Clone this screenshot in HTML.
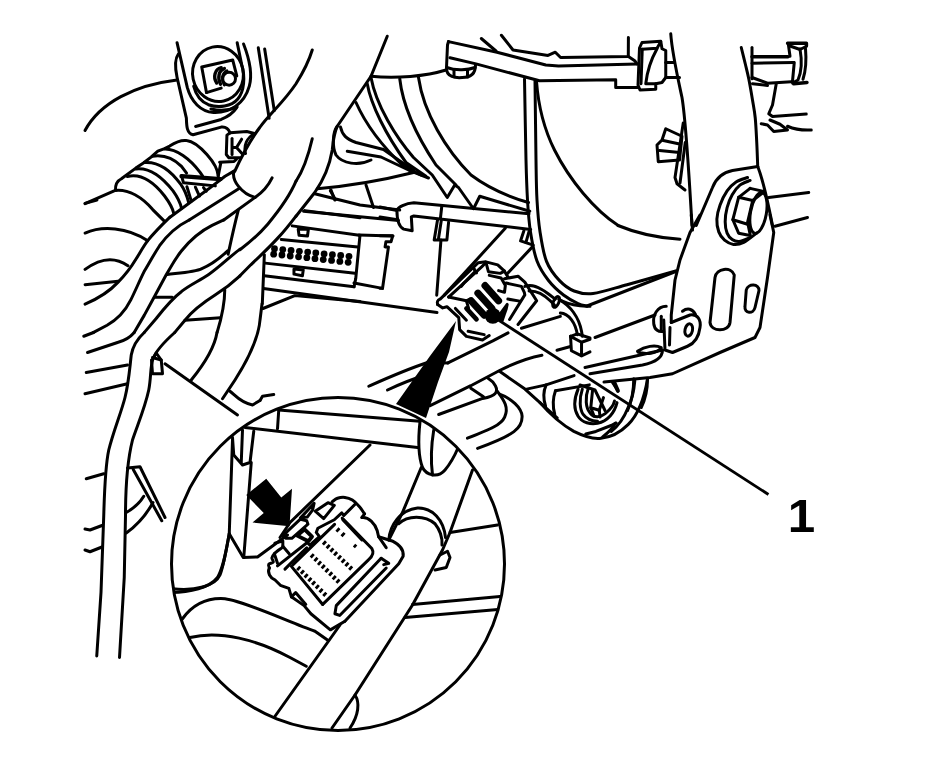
<!DOCTYPE html>
<html><head><meta charset="utf-8"><title>Connector</title>
<style>
html,body{margin:0;padding:0;background:#fff;}
svg{display:block;}
.l{fill:none;stroke:#000;stroke-width:3.0;stroke-linecap:round;stroke-linejoin:round;}
.l *{vector-effect:none;}
.w{fill:#fff;stroke:#000;stroke-width:2;stroke-linejoin:round;}
.k{fill:#000;stroke:none;}
text{font-family:"Liberation Sans",sans-serif;font-weight:bold;fill:#000;}
</style></head>
<body>
<svg width="945" height="782" viewBox="0 0 945 782">
<rect width="945" height="782" fill="#fff"/>
<!-- grommet detail -->
<g transform="translate(170,35) scale(0.12793)" class="l" style="stroke-width:23.45">
<path d="M55,60 L135,410 C165,520 240,600 340,605 C470,610 580,540 620,400 C650,290 610,160 575,70"/>
<path d="M525,60 L560,230 C590,330 580,440 530,500 C480,560 380,572 300,545 C240,520 200,460 185,400"/>
<path d="M525,562 C460,592 380,592 320,578"/>
<ellipse cx="375" cy="305" rx="198" ry="215" transform="rotate(-12 375 305)"/>
<path d="M65,150 C35,190 40,260 55,330 L128,650 C130,700 128,770 180,780 L400,720 C440,715 460,740 470,765"/>
<path d="M200,715 L400,660 C450,640 500,600 520,570"/>
<path d="M285,450 L248,250 L490,195 L522,320"/>
<path d="M285,450 L400,415"/>
<path d="M400,255 C350,265 335,330 365,375" style="stroke-width:26.40"/>
<path d="M425,262 C380,275 370,335 395,385" style="stroke-width:26.40"/>
<path d="M445,280 C405,300 400,350 425,390" style="stroke-width:24.00"/>
<circle cx="462" cy="342" r="50" fill="#fff"/>
<path d="M690,100 L775,650"/>
<path d="M740,110 L815,590"/>
</g>
<!-- clip detail -->
<g transform="translate(170,120) scale(0.12793)" class="l" style="stroke-width:23.45">
<path d="M470,100 L600,90 L660,105 C600,140 575,200 590,262"/>
<path d="M470,100 L445,118 L440,270 L460,295 L550,295"/>
<path d="M485,145 L485,270"/>
<path d="M560,150 L520,215 L570,270"/>
<path d="M490,215 L520,215"/>
<path d="M500,400 C480,470 560,580 665,605 C730,560 770,510 798,452"/>
<path d="M500,400 L430,440 L300,540 L0,760"/>
<path d="M540,535 L150,782"/>
<path d="M665,605 L420,782"/>
</g>
<!-- tile1 4x -->
<g transform="translate(60,30) scale(0.25)" class="l" style="stroke-width:12.00">
<path d="M100,402 C160,290 300,220 468,200"/>
</g>

<!-- tile2 4x origin 296,30 -->
<g transform="translate(296,30) scale(0.25)" class="l" style="stroke-width:12.00">
<path d="M65,80 C50,130 25,175 0,215 C-50,290 -110,340 -145,390 C-190,450 -215,500 -245,565"/>
<path d="M365,25 L300,185 L165,385"/>
<path d="M65,435 C50,500 30,560 0,605"/>
<path d="M300,185 C400,195 520,185 600,160"/>
<path d="M300,190 C320,300 400,430 470,510 L545,580 L605,670 L635,620 L650,630 L710,715 L735,665 L935,725"/>
<path d="M285,215 C300,300 360,420 440,530 L520,585"/>
<path d="M240,290 C280,380 350,470 430,545 L500,580"/>
<path d="M415,195 C430,330 500,450 560,540 L640,620"/>
<path d="M490,190 C510,330 600,480 700,580 C780,640 860,670 930,690"/>
<path d="M610,46 L606,60 L602,150 C600,190 640,192 665,190 C700,190 718,175 718,140"/>
<path d="M603,150 C640,165 690,160 716,150"/>
<path d="M632,162 L632,187"/>
<path d="M686,160 L686,188"/>
<path d="M165,385 C145,410 145,470 160,500 C185,535 250,545 300,520"/>
<path d="M205,485 L340,508 L450,560 L530,592"/>
<path d="M178,388 C185,420 200,435 240,450 L350,478 L470,562"/>
<path d="M85,635 C200,625 350,600 470,570"/>
<path d="M140,640 L155,680"/>
<path d="M280,620 L310,710"/>
<path d="M75,655 L256,700 L415,720"/>
<path d="M165,385 C150,420 148,450 145,480 C135,540 110,600 75,650 L0,745"/>
<path d="M30,725 L410,762"/>
</g>

<!-- tile3 4x origin 532,30 -->
<g transform="translate(532,30) scale(0.25)" class="l" style="stroke-width:12.00">
<path d="M440,50 L515,45 L520,75 L535,82 L535,190 L520,210 L495,215 L495,237 L432,240 L424,220 L430,72 Z"/>
<path d="M440,77 L500,73 L515,47"/>
<path d="M441,77 L436,215"/>
<path d="M500,75 C475,120 460,170 455,215 L495,215"/>
<path d="M535,130 L570,130"/>
<path d="M535,190 L590,190"/>
<path d="M555,15 C560,90 585,200 600,270 C615,360 625,520 640,782"/>
<path d="M837.0,70.0 C839.7,80.8 848.0,114.2 853.0,135.0 C858.0,155.8 862.2,170.8 867.0,195.0 C871.8,219.2 877.7,253.8 882.0,280.0 C886.3,306.2 890.2,323.7 893.0,352.0 C895.8,380.3 897.3,417.3 899.0,450.0 C900.7,482.7 902.3,531.7 903.0,548.0"/>
<path d="M18,205 C25,300 50,400 90,480 C150,600 250,720 345,782"/>
<path d="M535,395 L600,425 L590,520 L505,527 L500,460 L520,440 Z"/>
<path d="M525,442 L595,457"/>
<path d="M510,482 L590,490"/>
<path d="M605,372 L572,590 L580,615 L612,640"/>
<path d="M613,450 L592,612"/>
</g>

<!-- tile3b 4x origin 650,30 -->
<g transform="translate(650,30) scale(0.25)" class="l" style="stroke-width:12.00">
<path d="M408,70 L408,195"/>
<path d="M408,107 L552,107" style="stroke-width:13.80"/>
<path d="M408,133 L575,130"/>
<path d="M408,190 L470,213 L565,207"/>
<path d="M410,215 L470,222"/>
<path d="M550,53 L626,53 L626,64" style="stroke-width:13.20"/>
<path d="M553,54 L560,105"/>
<path d="M560,64 L600,78 L624,66"/>
<path d="M600,76 C608,120 605,170 592,200 L570,212"/>
<path d="M622,75 C626,120 624,160 612,197"/>
<path d="M577,130 L570,205"/>
<path d="M575,215 L628,210" style="stroke-width:13.80"/>
<path d="M505,215 L490,300 L475,335 L490,346 L625,336"/>
<path d="M445,375 L470,380 L495,406 L550,400 L520,377 L480,360"/>
<path d="M550,385 C580,398 610,402 645,400"/>
<path d="M431,546 L330,562 C290,570 265,590 250,630 L185,782"/>
<path d="M431,546 C452,600 470,680 490,782"/>
<path d="M475,670 L635,650"/>
</g>

<!-- D3 5.906x origin 80,200 -->
<g transform="translate(80,200) scale(0.16931)" class="l" style="stroke-width:17.72">
<path d="M531,101 C470,160 420,215 400,240 C370,280 350,320 330,350 C300,400 260,450 225,485 C170,545 100,585 30,615"/>
<path d="M30,195 C130,150 280,160 400,240"/>
<path d="M30,410 C110,350 200,330 283,388"/>
<path d="M30,500 L225,480"/>
<path d="M645,118 C580,150 520,200 470,270 C430,330 400,390 380,420 C350,480 330,530 300,590 C270,650 230,700 160,740 L80,782"/>
<path d="M849,118 L780,150 C700,190 640,250 600,300 C560,350 540,390 510,440 L440,570 L380,680 L320,782"/>
<path d="M935,60 C912,150 890,250 875,320"/>
<path d="M515,440 C600,430 680,425 720,405 C780,380 830,340 872,300"/>
<path d="M945,290 C890,330 820,400 760,440 C700,480 650,500 600,540 C560,570 520,610 450,700 L380,782"/>
<path d="M440,575 L545,575"/>
<path d="M945,448 C900,490 850,528 800,560 C740,598 660,660 620,710 L560,782"/>
<path d="M855,530 C855,600 835,700 810,782"/>
<path d="M620,710 L830,695"/>
<path d="M30,20 L100,0"/>
</g>

<!-- D4 hose 5.906x origin 85,130 -->
<g transform="translate(85,130) scale(0.16931)" class="l" style="stroke-width:17.72">
<path d="M0,435 L172,360"/>
<path d="M180,357 C178,320 190,300 215,288 L300,225 L345,195 L390,160 L430,125 L470,110 L500,95 C530,75 570,58 600,62 C640,66 680,100 720,145 C760,190 785,240 787,272"/>
<path d="M180,357 C260,350 340,400 400,470 L470,540"/>
<path d="M250,275 C330,255 400,300 470,390 C500,430 520,470 525,495"/>
<path d="M300,230 C380,220 450,270 520,360 C545,395 565,440 570,462"/>
<path d="M350,192 C430,185 500,230 565,320 C590,355 605,400 612,428"/>
<path d="M398,155 C460,145 520,165 570,215 L600,255"/>
<path d="M470,112 C540,110 620,170 680,250 L695,272"/>
<path d="M602,335 L628,420"/>
<path d="M652,338 L676,390"/>
<path d="M700,340 L716,362"/>
<path d="M570,272 L800,290" style="stroke-width:25.50"/>
<path d="M570,270 L582,312 L770,330"/>
<path d="M795,190 L880,186 L895,172"/>
<path d="M802,195 L787,272"/>
</g>

<!-- D5 5.906x origin 200,170 : cables + ECU -->
<g transform="translate(200,170) scale(0.16931)" class="l" style="stroke-width:17.72">
<path d="M567,66 C540,130 500,200 400,320 C340,390 290,430 236,471"/>
<path d="M567,272 C500,360 450,420 300,560 L236,625"/>
<path d="M770,122 L800,175"/>
<path d="M620,240 L945,282"/>
<path d="M545,330 L940,385"/>
<path d="M480,410 L932,455"/>
<path d="M380,500 L368,790"/>
<path d="M385,550 L915,610"/>
<path d="M380,625 L910,690"/>
<path d="M945,385 L920,640 L910,690"/>
<path d="M580,350 L640,350 L635,390 L585,385 Z"/>
<path d="M555,585 L610,590 L605,625 L555,615 Z"/>
<path d="M372,818 L560,742 L945,777"/>
<g style="fill:#000;stroke:none"><circle cx="440" cy="465" r="20"/><circle cx="435" cy="497" r="20"/><circle cx="489" cy="470" r="20"/><circle cx="484" cy="502" r="20"/><circle cx="538" cy="475" r="20"/><circle cx="533" cy="508" r="20"/><circle cx="587" cy="480" r="20"/><circle cx="582" cy="513" r="20"/><circle cx="636" cy="485" r="20"/><circle cx="631" cy="518" r="20"/><circle cx="684" cy="490" r="20"/><circle cx="679" cy="524" r="20"/><circle cx="733" cy="495" r="20"/><circle cx="728" cy="529" r="20"/><circle cx="782" cy="500" r="20"/><circle cx="777" cy="534" r="20"/><circle cx="831" cy="505" r="20"/><circle cx="826" cy="540" r="20"/><circle cx="880" cy="510" r="20"/><circle cx="875" cy="545" r="20"/></g>
</g>

<!-- D6 5.906x origin 380,180 : rail -->
<g transform="translate(380,180) scale(0.16931)" class="l" style="stroke-width:17.72">
<path d="M0,160 L100,180 C105,160 150,138 200,135 L370,150 L880,200"/>
<path d="M100,180 C100,230 110,275 140,290 L190,300 L185,218 L200,212 L890,292"/>
<path d="M0,218 L103,235"/>
<path d="M340,235 L320,355 L395,355 L405,250"/>
<path d="M362,240 L345,350"/>
<path d="M365,155 L357,225"/>
<path d="M360,355 L335,680"/>
<path d="M850,300 L830,360 L905,385"/>
<path d="M880,305 L862,368"/>
<path d="M740,285 L380,680"/>
<path d="M900,395 L750,555"/>
<path d="M0,330 L75,330 L65,365 L35,365 L30,395 L50,395 L15,640 L0,640"/>
</g>
<path class="l" d="M359,235 L393,236"/>
<path class="l" d="M354,283 L382.5,288.4"/>
<path class="l" d="M263.5,288.4 L437,312.6"/>

<!-- D7 5.906x origin 430,250 : connector 1 -->
<g transform="translate(430,250) scale(0.16931)" class="l" style="stroke-width:17.72">
<path d="M770,298 C830,325 890,335 945,332"/>
<path d="M45,322 C38,300 50,295 60,290 L285,75 L330,70 L400,88 L440,125 L460,160"/>
<path d="M110,278 L305,100 L325,80"/>
<path d="M185,215 L200,195 L215,180 M215,180 L265,128 L275,135 M265,128 L262,112"/>
<path d="M110,278 L215,300 L235,290"/>
<path d="M45,322 L75,342 L100,335 L170,400 L175,470 L215,510 L310,532 L350,505"/>
<path d="M150,345 L215,415"/>
<path d="M215,300 L228,345"/>
<path d="M225,480 L320,500"/>
<path d="M330,72 L345,128 L415,138 L440,125"/>
<path d="M350,150 L420,165 L445,210 L440,250 L405,240"/>
<path d="M440,170 L520,155 L560,190 L630,300 L520,440"/>
<path d="M450,195 L540,215 L557,250 L560,265 L470,410"/>
<path d="M460,290 L530,302"/>
<path d="M560,215 C600,200 640,215 700,260 L740,290"/>
<path d="M585,242 C630,240 670,260 710,300 L735,325"/>
<ellipse cx="745" cy="307" rx="16" ry="34" transform="rotate(25 745 307)"/>
<path d="M760,290 C830,330 880,400 895,480 L900,510"/>
<path d="M770,372 C820,375 860,430 870,500"/>
<path d="M830,510 L870,495 L945,520"/>
<path d="M830,510 L835,595 L895,625 L945,602"/>
<path d="M830,510 L895,545 L895,625"/>
<path d="M895,545 L945,527"/>
<g style="stroke-width:42.00">
<path d="M325,210 L405,300"/>
<path d="M283,255 L365,345"/>
<path d="M243,300 L320,385"/>
</g>
<path d="M456,321 L449,352 L438,382 L426,418 L396,404 L430,356 Z" fill="#000"/>
<path d="M215,345 L275,410" style="stroke-width:27.00"/>
<circle cx="371" cy="389" r="47" style="fill:#000;stroke:none"/>
<path d="M375,395 L1999,1444" style="stroke-width:16.80;stroke-linecap:butt"/>

<path d="M540,462 L770,392"/>
<path d="M750,592 L830,570"/>
</g>
<path d="M456,321 L449,352 L438,382 L426,418 L396,404 L430,356 Z" fill="#000"/>

<!-- tile6 4x origin 580,215 : bracket plate -->
<g transform="translate(580,215) scale(0.25)" class="l" style="stroke-width:12.00">
<path d="M152,42 C230,75 320,92 400,97"/>
<path d="M480,0 L440,70 L400,180 L380,260 L365,400 L365,430"/>
<path d="M445,0 L450,60"/>
<path d="M760,0 L775,70 L750,250 L720,450 L700,490 L560,550 L370,635 L280,650 L96,668"/>
<path d="M780,45 L910,10"/>
<path d="M540,250 C545,212 605,205 617,240 L600,430 C595,468 525,470 520,430 Z"/>
<path d="M665,300 C672,272 718,275 716,302 L700,370 C694,398 656,395 660,365 Z"/>
<path d="M365,430 L440,400 C470,395 485,420 480,450 C475,490 455,515 430,525 L370,550 L340,540 L335,420"/>
<path d="M410,385 C430,370 450,375 462,398"/>
<ellipse cx="435" cy="460" rx="15" ry="25" transform="rotate(12 435 460)"/>
<path d="M345,365 C310,365 290,400 295,435 C298,460 315,470 335,465"/>
<path d="M325,405 L325,460"/>
<path d="M360,450 L358,520"/>
<path d="M60,490 L300,400"/>
<path d="M20,610 L330,540"/>
<path d="M230,545 C260,525 300,518 325,530 C310,555 260,560 232,548"/>
<path d="M330,540 C330,570 300,590 250,600 L40,635"/>
<path d="M0,680 L60,700 L100,782"/>
<path d="M130,670 L150,700"/>
<path d="M215,655 C215,700 205,750 190,782"/>
<path d="M270,655 C270,700 260,740 245,770"/>
</g>

<!-- tile7 4x origin 60,320 -->
<g transform="translate(60,320) scale(0.25)" class="l" style="stroke-width:12.00">
<path d="M134,50 L95,65"/>
<path d="M297,50 C280,70 250,85 230,90 L110,130"/>
<path d="M105,210 L270,180"/>
<path d="M100,295 L270,255"/>
<path d="M105,635 L175,615"/>
<path d="M337,50 C310,75 292,100 285,140 C278,200 275,250 260,310 C245,370 215,440 195,520 C180,590 178,680 175,782 L164,1090 L147,1344"/>
<path d="M459,50 C420,85 385,120 372,155 C360,190 365,230 355,280 C340,350 310,420 290,480 C270,560 262,650 262,782 L257,1030 L238,1350"/>
<path d="M375,150 L385,132 L405,160"/>
<path d="M370,150 L405,160 L410,215 L370,215 L366,160"/>
<path d="M420,175 L710,380"/>
<path d="M628,50 C620,100 590,160 525,240"/>
<path d="M808,-64 L800,0 C795,60 770,130 700,240 L650,315"/>
<path d="M680,285 C700,300 720,330 770,340 L800,322"/>
<path d="M800,322 L810,305 L855,298"/>
<path d="M740,440 L945,462"/>
<path d="M880,365 L870,440"/>
<path d="M690,470 L700,560 L720,580 L760,580 L775,445"/>
<path d="M735,440 L725,575"/>
<path d="M690,480 L680,782"/>
<path d="M770,520 L750,782"/>
<path d="M293,598 L407,803"/>
<path d="M270,592 L320,587 L420,790"/>
<path d="M265,770 C300,750 320,730 335,705"/>
<path d="M265,852 C310,820 350,770 372,730"/>
<path d="M100,836 L120,840 L168,822"/>
<path d="M100,920 L120,927 L168,908"/>
</g>

<!-- D9 5.906x origin 420,340 : under connector -->
<g transform="translate(420,340) scale(0.16931)" class="l" style="stroke-width:17.72">
<path d="M165,135 L430,5 L520,-42"/>
<path d="M720,90 C640,105 540,145 470,180 L300,270 L60,388"/>
<path d="M400,225 C440,250 465,290 445,315 C430,335 400,340 370,345 L110,440"/>
<path d="M300,285 L375,335"/>
<path d="M455,300 C500,360 525,400 500,455 C480,500 420,525 280,580"/>
<path d="M470,320 C540,345 600,400 603,450 C605,520 560,560 340,640"/>
<path d="M470,185 L620,290 L720,380 L810,460"/>
<path d="M630,290 L745,265 L910,210"/>
<path d="M745,265 C725,310 728,350 742,392"/>
<path d="M800,300 L1000,265"/>
<path d="M800,300 C782,350 785,400 796,440"/>
</g>
<path class="l" d="M368.75,386.25 C385,379 405,370 427.5,362.5 L448,363"/>
<path class="l" d="M387.5,390 C400,384 417,377.5 432.5,372.5"/>

<!-- D10 5.906x origin 540,340 : tube end -->
<g transform="translate(540,340) scale(0.16931)" class="l" style="stroke-width:17.72">
<path d="M0,370 C60,440 130,500 200,540 C260,570 320,585 360,580 C420,575 480,540 520,500 C570,450 610,380 635,230"/>
<path d="M225,290 C200,350 200,410 225,450 C250,490 300,500 340,492 C400,480 440,430 455,370"/>
<path d="M250,290 C230,350 235,410 255,440 C280,475 310,480 340,480"/>
<path d="M285,285 C265,340 270,400 295,430 C320,465 360,455 385,435 C415,410 435,385 440,360"/>
<path d="M310,300 L300,400 L350,415 L375,340"/>
<path d="M300,400 L320,450"/>
<path d="M350,415 L355,455"/>
<path d="M270,555 L330,540 L420,505 L450,490"/>
<path d="M370,572 C400,550 430,520 445,492"/>
<path d="M560,240 C555,300 540,360 520,400 C500,450 460,510 420,540"/>
<path d="M440,255 L460,300" style="stroke-width:24.00"/>
</g>

<!-- J curves (orig coords) -->
<path class="l" d="M524.5,79.0 C524.8,92.5 525.5,139.8 526.0,160.0 C526.5,180.2 526.8,188.0 527.5,200.0 C528.2,212.0 528.9,221.8 530.5,232.0 C532.1,242.2 534.0,252.9 537.0,261.0 C540.0,269.1 544.1,274.8 548.5,280.5 C552.9,286.2 558.6,291.2 563.5,295.0 C568.4,298.8 574.1,301.7 578.0,303.5 C581.9,305.3 585.5,305.6 587.0,306.0"/>
<path class="l" d="M587,306 L675.7,271.5"/>
<path class="l" d="M535.0,81.0 C535.2,94.2 535.7,140.2 536.0,160.0 C536.3,179.8 536.3,188.1 537.0,200.0 C537.7,211.9 538.4,221.5 540.0,231.7 C541.6,241.9 543.3,253.3 546.5,261.4 C549.7,269.5 554.7,275.5 559.3,280.4 C563.9,285.3 568.5,288.8 574.1,291.0 C579.7,293.2 584.3,294.6 593.1,293.5 C601.9,292.4 613.2,288.5 627.0,284.7 C640.8,280.9 667.6,273.2 675.7,270.9"/>
<!-- D12 bolt 7.82x origin 690,150 -->
<g transform="translate(690,150) scale(0.12793)" class="l" style="stroke-width:23.45">
<path d="M450.0,215.0 C435.0,220.8 386.7,232.5 360.0,250.0 C333.3,267.5 310.8,290.0 290.0,320.0 C269.2,350.0 248.3,393.3 235.0,430.0 C221.7,466.7 211.7,505.0 210.0,540.0 C208.3,575.0 215.0,612.5 225.0,640.0 C235.0,667.5 250.8,688.7 270.0,705.0 C289.2,721.3 315.0,735.2 340.0,738.0 C365.0,740.8 390.0,736.7 420.0,722.0 C450.0,707.3 503.3,662.0 520.0,650.0"/>
<path d="M470.0,238.0 C456.7,244.2 413.3,256.3 390.0,275.0 C366.7,293.7 346.7,320.8 330.0,350.0 C313.3,379.2 299.2,415.0 290.0,450.0 C280.8,485.0 275.0,526.7 275.0,560.0 C275.0,593.3 280.8,626.7 290.0,650.0 C299.2,673.3 314.2,689.2 330.0,700.0 C345.8,710.8 363.3,716.7 385.0,715.0 C406.7,713.3 447.5,694.2 460.0,690.0"/>
<ellipse cx="535" cy="492" rx="62" ry="162" transform="rotate(10 535 492)"/>
<path d="M470,300 L380,370 L335,545 L380,650 L470,668"/>
<path d="M380,370 L490,395 L578,328"/>
<path d="M490,395 L450,565 L470,660"/>
<path d="M335,545 L450,580"/>
<path d="M470,300 L580,325"/>
</g>

<!-- top bracket (orig coords) -->
<g class="l">
<path d="M448.5,41.6 L497,52.2 L545.8,65 L558.5,66 L637,63.9"/>
<path d="M501.4,35.3 L513,50 L548,55.4 L555.3,52.2 L560.6,57.5 L628.3,56.5 L628.4,37.4"/>
<path d="M628.4,56.5 L634.7,60.7 L637,64"/>
<path d="M481.3,38.5 L496,51"/>
<path d="M450,57.8 L476,63.9 L539.5,80.8 L615.7,79.7 L615.7,87.5 L638,87.5"/>
</g>

<!-- magnifier circle -->
<defs><clipPath id="cc"><circle cx="338" cy="564" r="166.5"/></clipPath></defs>
<circle cx="338" cy="564" r="166.5" fill="#fff" stroke="none"/>
<g clip-path="url(#cc)">

<!-- tile8 4x origin 170,395 : inside circle upper-left -->
<g transform="translate(170,395) scale(0.25)" class="l" style="stroke-width:12.00">
<path d="M435,60 L1000,105"/>
<path d="M435,60 L430,135"/>
<path d="M300,130 L990,210"/>
<path d="M250,170 L255,240 L290,280 L320,270 L335,145"/>
<path d="M290,140 L285,270"/>
<path d="M250,180 L237,555 L293,650 L350,648 L470,560"/>
<path d="M325,270 L295,650"/>
<path d="M800,200 L480,510 L440,570"/>
<path d="M305,400 L385,335 L445,410 L488,375 L478,525 L330,510 L375,472 Z" style="fill:#000;stroke:none"/>
<path d="M237,555 C225,620 215,690 190,730 C160,770 80,790 0,790"/>
</g>

<!-- D8 5.906x origin 255,480 : magnified connector -->
<g transform="translate(255,480) scale(0.16931)" class="l" style="stroke-width:17.72">
<path d="M85,520 C70,545 90,580 120,592 L150,622 L200,640 L215,690 L290,742 L330,790 L445,885 L531,834"/>
<path d="M647,200 L630,222 C670,215 710,260 722,300 L730,335 L810,360 C850,380 880,410 875,450 L849,495 L531,834"/>
<path d="M730,335 L775,400"/>
<path d="M515,225 L690,405 C705,430 690,455 670,472 L400,735"/>
<path d="M215,510 L400,735"/>
<path d="M470,262 L225,500"/>
<path d="M745,462 L480,742 L472,790 L500,800 L775,520"/>
<path d="M745,462 L790,492 L760,500"/>
<path d="M215,690 L240,665 L300,735"/>
<path d="M499,285 L481,305 M529,312 L511,332 M419,362 L401,382 M441,383 L423,403 M463,404 L445,424 M485,425 L467,445 M508,447 L490,467 M530,468 L512,488 M552,489 L534,509 M574,510 L556,530 M347,438 L329,458 M369,459 L351,479 M390,481 L372,501 M412,502 L394,522 M434,524 L416,544 M456,545 L438,565 M477,567 L459,587 M499,588 L481,608 M267,512 L249,532 M289,534 L271,554 M311,556 L293,576 M333,578 L315,598 M355,599 L337,619 M377,621 L359,641 M399,643 L381,663 M421,665 L403,685 M598,382 L584,398 " style="stroke-width:16.50;stroke-linecap:butt"/>
</g>

<!-- tile9 4x origin 290,395 : inside circle upper-right -->
<g transform="translate(290,395) scale(0.25)" class="l" style="stroke-width:12.00">
<path d="M520,107 C512,180 515,250 530,290 C545,320 590,335 620,300 C645,270 660,240 672,212"/>
<path d="M575,140 C565,200 562,260 570,320"/>
<path d="M525,290 L450,470 L395,580"/>
<path d="M395,580 C400,520 440,460 510,452 C570,450 615,500 622,570"/>
<path d="M435,515 C470,480 540,480 580,515 C600,540 610,570 608,600"/>
<path d="M640,550 L830,520"/>
<path d="M600,640 L630,625 L640,650 L625,690 L580,700"/>
</g>
<path class="l" d="M472.5,470 L450,532.5 L442.5,550 L412.5,605 L355,695 L332,728"/>
<path class="l" d="M412.5,604.5 L500,596.5"/>
<path class="l" d="M405,617.5 L498,609.5"/>

<!-- tile10 4x origin 170,550 : inside circle lower-left -->
<g transform="translate(170,550) scale(0.25)" class="l" style="stroke-width:12.00">
<path d="M237,-65 C225,0 215,60 200,100 C180,145 100,165 10,155"/>
<path d="M50,275 C90,220 150,190 220,195 C300,205 480,290 580,325 L630,360"/>
<path d="M80,350 C200,320 350,360 480,430 L545,465"/>
<path d="M680,300 L420,665"/>
<path d="M740,580 C760,610 755,660 720,712"/>
</g>

<!-- D14 9.42x origin 260,490 : magnified connector latch -->
<g transform="translate(260,490) scale(0.10616)" class="l" style="stroke-width:28.26">
<path d="M88.0,735.0 C87.0,729.2 75.8,709.2 82.0,700.0 C88.2,690.8 120.0,690.0 125.0,680.0 C130.0,670.0 110.3,653.3 112.0,640.0 C113.7,626.7 119.5,615.8 135.0,600.0 C150.5,584.2 193.3,554.2 205.0,545.0"/>
<path d="M135,600 L165,690"/>
<path d="M215,530 L275,600"/>
<path d="M140,500 L215,480 L215,530"/>
<path d="M215,430 L380,275 L440,290 L452,322 L300,455 L245,455 Z"/>
<path d="M380,265 L510,125 L495,190 L445,255 Z"/>
<path d="M350,430 L420,370 L490,440 L455,482 Z" style="stroke-width:36.00"/>
<path d="M520,200 L640,120 L700,145 L600,270 Z"/>
<path d="M680.0,110.0 C688.3,104.7 710.0,84.7 730.0,78.0 C750.0,71.3 776.7,67.2 800.0,70.0 C823.3,72.8 847.5,80.8 870.0,95.0 C892.5,109.2 915.8,133.3 935.0,155.0 C954.2,176.7 976.7,213.3 985.0,225.0"/>
<path d="M165,715 L445,495 L470,520 L560,440 L530,400 L545,360 L700,280 L770,215 L790,240 L900,130"/>
<path d="M235,745 L320,660 L440,545"/>
<path d="M780,280 L960,470"/>
</g>

</g>
<circle cx="338" cy="564" r="166.5" class="l"/>

<text transform="translate(787.8,531.5) scale(1.05,1)" font-size="47">1</text>
</svg>
</body></html>
